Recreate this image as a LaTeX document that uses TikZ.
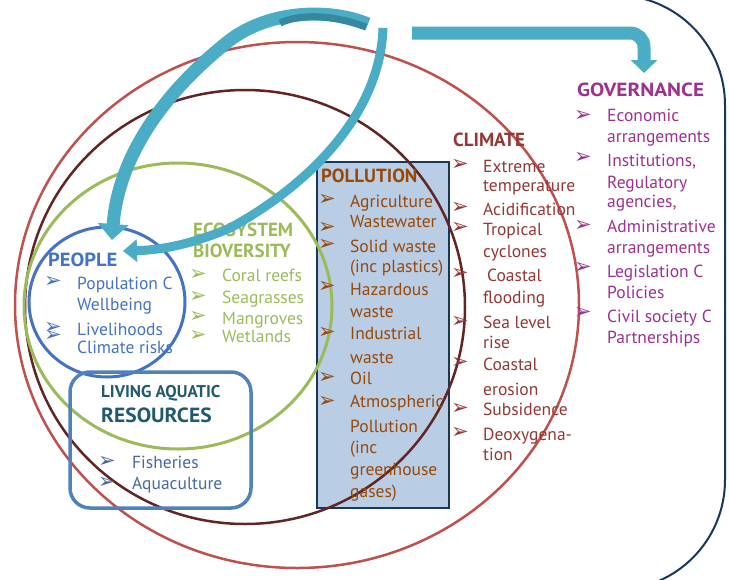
\documentclass[tikz,border=0pt]{standalone}
\usepackage{fontspec}
\usepackage{graphicx}
\setmainfont{PT Sans}
\newfontfamily\dejavu{DejaVu Sans}
\usetikzlibrary{arrows.meta}

\definecolor{govcol}{RGB}{158,48,146}
\definecolor{climcol}{RGB}{149,55,53}
\definecolor{polcol}{RGB}{152,72,7}
\definecolor{ecocol}{RGB}{155,187,89}
\definecolor{peocol}{RGB}{68,114,196}
\definecolor{livcol}{RGB}{33,89,110}
\definecolor{livitem}{RGB}{70,105,160}
\definecolor{flowcol}{RGB}{75,172,198}
\definecolor{flowdark}{RGB}{55,135,158}
\definecolor{redring}{RGB}{192,80,77}
\definecolor{brownring}{RGB}{99,37,35}
\definecolor{navyline}{RGB}{23,55,94}
\definecolor{polfill}{RGB}{185,205,229}
\definecolor{livline}{RGB}{79,129,189}

\tikzset{
  item/.style={anchor=base west,inner sep=0pt,font=\fontsize{17.5}{20}\selectfont},
  title/.style={anchor=base west,inner sep=0pt,font=\bfseries\fontsize{19}{20}\selectfont},
  tick/.style={inner sep=0pt,font=\dejavu\fontsize{21}{21}\selectfont},
  flow/.style={draw=flowcol,line cap=butt},
}

\begin{document}
\begin{tikzpicture}[x=1pt,y=-1pt]
        \useasboundingbox (0,0) rectangle (729,579) ;
        \fill[white] (0,0) rectangle (729,579) ;
        % governance frame
        \draw[navyline,line width=2,rounded corners=110pt]
        (560,-5) -- (725,-5) -- (725,590) -- (560,590) ;
        % pollution box
        \draw[fill=polfill,draw=navyline,line width=2] (317,162) rectangle (449,508) ;
        % rings
        \draw[redring,line width=2.5] (297,305) ellipse [x radius=282,y radius=263] ;
        \draw[brownring,line width=2.5] (245,307) ellipse [x radius=220,y radius=217] ;
        \draw[ecocol,line width=3] (178,306) ellipse [x radius=154,y radius=143] ;
        \draw[peocol,line width=3] (107,302) ellipse [x radius=78,y radius=75] ;
        \draw[livline,line width=3.5,rounded corners=20pt] (70,372) rectangle (251,508) ;

        % governance
        \node[title,govcol] (govt) at (577,96) {\scalebox{1.12}[1]{GOVERNANCE}} ;
        \foreach \t/\y [count=\i] in {Economic/121,arrangements/142,{Institutions,}/166,
          Regulatory/188,{agencies,}/207,Administrative/232,arrangements/253,
          Legislation C/277,Policies/298,Civil society C/322,Partnerships/343}
          \node[item,govcol] (gov\i) at (607,\y) {\t} ;
        \foreach \y [count=\i] in {116,158,226,268,313}
          \node[tick,govcol] (govb\i) at (583,\y) {➢} ;

        % climate
        \node[title,climcol] (climt) at (453,146) {CLIMATE} ;
        \foreach \t/\x/\y [count=\i] in {Extreme/483/172,temperature/483/191,
          Acidification/483/215,Tropical/483/235,cyclones/483/257,Coastal/487/281,
          flooding/483/303,Sea level/483/328,rise/483/348,Coastal/483/370,
          erosion/483/395,Subsidence/483/415,Deoxygena-/483/440,tion/483/460}
          \node[item,climcol] (clim\i) at (\x,\y) {\t} ;
        \foreach \y [count=\i] in {165,208,228,274,322,363,409,433}
          \node[tick,climcol] (climb\i) at (460,\y) {➢} ;

        % pollution
        \node[title,polcol] (polt) at (321,182) {POLLUTION} ;
        \foreach \t/\y [count=\i] in {Agriculture/207,Wastewater/227,Solid waste/252,
          {{(inc plastics)}}/272,Hazardous/295,waste/317,Industrial/339,waste/363,
          Oil/384,Atmospheric/407,Pollution/432,{{(inc}}/453,greenhouse/475,{{gases)}}/497}
          \node[item,polcol] (pol\i) at (350,\y) {\t} ;
        \foreach \y [count=\i] in {200,228,245,287,333,378,402}
          \node[tick,polcol] (polb\i) at (327,\y) {➢} ;

        % ecosystem
        \node[title,ecocol] (ecot) at (193,236) {ECOSYSTEM} ;
        \node[title,ecocol] (ecot2) at (193,257) {BIOVERSITY} ;
        \foreach \t/\y [count=\i] in {Coral reefs/281,Seagrasses/303,Mangroves/324,Wetlands/342}
          \node[item,ecocol] (eco\i) at (222,\y) {\t} ;
        \foreach \y [count=\i] in {275,297,317,336}
          \node[tick,ecocol] (ecob\i) at (198,\y) {➢} ;

        % people
        \node[title,peocol] (peot) at (48,266) {\scalebox{1.08}[1]{PEOPLE}} ;
        \foreach \t/\y [count=\i] in {Population C/289,Wellbeing/310,Livelihoods/335,Climate risks/353}
          \node[item,peocol] (peo\i) at (77,\y) {\t} ;
        \foreach \y [count=\i] in {282,328,336}
          \node[tick,peocol] (peob\i) at (53,\y) {➢} ;

        % living aquatic resources
        \node[title,livcol,font=\bfseries\fontsize{17}{20}\selectfont] (livt) at (101,397) {LIVING AQUATIC} ;
        \node[title,livcol,font=\bfseries\fontsize{20.5}{22}\selectfont] (livt2) at (101,422) {\scalebox{1.05}[1]{RESOURCES}} ;
        \foreach \t/\y [count=\i] in {Fisheries/468,Aquaculture/489}
          \node[item,livitem] (liv\i) at (132,\y) {\t} ;
        \foreach \y [count=\i] in {462,483}
          \node[tick,livitem] (livb\i) at (107,\y) {➢} ;

        % arrows
        \coordinate (tailA) at (368,24) ;
        \coordinate (headA) at (112,240) ;
        \coordinate (tailB) at (383,28) ;
        \coordinate (headB) at (123,251) ;
        \coordinate (tailC) at (412,33) ;
        \coordinate (headC) at (644,73) ;
        \draw[flow,line width=13,-{Triangle[width=30pt,length=16pt]}]
        (tailA) .. controls (330,8) and (270,10) .. (230,40)
        .. controls (160,95) and (118,160) .. (headA) ;
        \draw[flowdark,line width=7] (366,27) .. controls (330,14) and (300,14) .. (280,23) ;
        \draw[flow,line width=9,-{Triangle[width=22pt,length=14pt]}]
        (tailB) .. controls (380,120) and (300,190) .. (230,228)
        .. controls (190,245) and (160,250) .. (headB) ;
        \draw[flow,line width=13,rounded corners=14pt,-{Triangle[width=26pt,length=13pt]}]
        (tailC) -- (644,33) -- (headC) ;
\end{tikzpicture}
\end{document}
